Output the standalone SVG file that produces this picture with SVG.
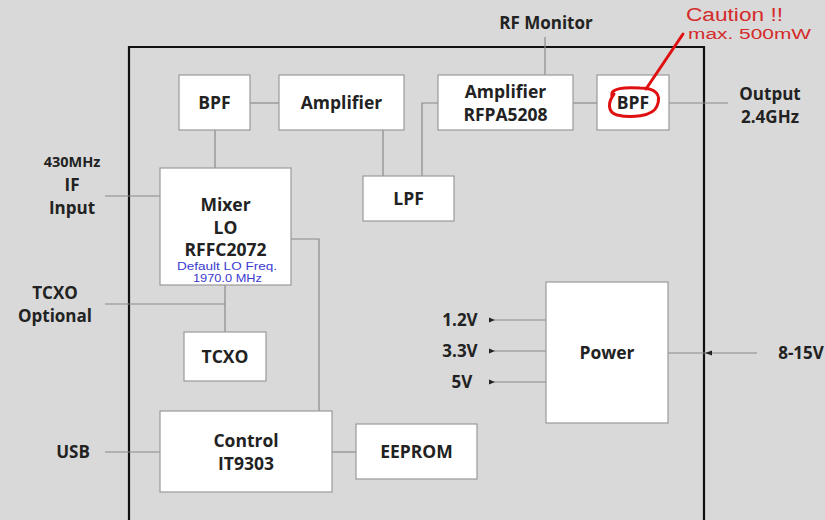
<svg xmlns="http://www.w3.org/2000/svg" width="825" height="520" viewBox="0 0 825 520">
<defs>
<marker id="ah" viewBox="0 0 6 6" refX="1" refY="3" markerWidth="6" markerHeight="6" orient="auto-start-reverse" markerUnits="userSpaceOnUse">
<path d="M6,0.5 L0,3 L6,5.5 Z" fill="#222"/>
</marker>
<style>
.box{fill:#fff;stroke:#9a9a9a;stroke-width:1.2}
.t{font-family:"Open Sans","Noto Sans","Liberation Sans",sans-serif;font-weight:bold;font-size:17.5px;fill:#222;text-anchor:middle}
.s{font-size:17px}
.w{stroke:#8a8a8a;stroke-width:1.2;fill:none}
.blue{font-family:"Liberation Sans",Arial,sans-serif;font-size:11px;fill:#3a3ad0;text-anchor:middle}
.red{font-family:"Liberation Sans",Arial,sans-serif;fill:#d42a2a}
</style>
</defs>
<rect width="825" height="520" fill="#d9d9d9"/>
<path d="M129,525 V47 H704 V525" fill="none" stroke="#111" stroke-width="2.2"/>

<g id="connectors">
<path class="w" d="M250,103 H279"/>
<path class="w" d="M215,130 V168"/>
<path class="w" d="M383,130 V176"/>
<path class="w" d="M422,176 V103 H438"/>
<path class="w" d="M573,103 H597"/>
<path class="w" d="M669,103 H728"/>
<path class="w" d="M545,37 V75"/>
<path class="w" d="M105,196 H160"/>
<path class="w" d="M291,239 H319 V411"/>
<path class="w" d="M105,304 H225"/>
<path class="w" d="M225,285 V332"/>
<path class="w" d="M105,452 H160"/>
<path class="w" d="M332,452 H356"/>
<path class="w" d="M546,320 H494" marker-end="url(#ah)"/>
<path class="w" d="M546,351 H494" marker-end="url(#ah)"/>
<path class="w" d="M546,382 H494" marker-end="url(#ah)"/>
<path class="w" d="M757,353 H668"/>
<path d="M712,350.5 L705,353 L712,355.5 Z" fill="#222"/>
</g>

<g id="bpf1"><rect class="box" x="179" y="75" width="71" height="55"/><text class="t" x="214.5" y="109">BPF</text></g>
<g id="amp1"><rect class="box" x="279" y="75" width="125" height="55"/><text class="t" x="341.5" y="109">Amplifier</text></g>
<g id="amp2"><rect class="box" x="438" y="75" width="135" height="55"/><text class="t" x="505.5" y="98">Amplifier</text><text class="t" x="505.5" y="121">RFPA5208</text></g>
<g id="bpf2"><rect class="box" x="597" y="75" width="72" height="55"/><text class="t" x="633" y="109">BPF</text></g>
<g id="mixer"><rect class="box" x="160" y="168" width="131" height="117"/>
<text class="t" x="225.5" y="211">Mixer</text><text class="t" x="225.5" y="234">LO</text><text class="t" x="225.5" y="256">RFFC2072</text>
<text class="blue" x="227" y="270" textLength="100" lengthAdjust="spacingAndGlyphs">Default  LO Freq.</text><text class="blue" x="227.5" y="282" textLength="69" lengthAdjust="spacingAndGlyphs">1970.0 MHz</text></g>
<g id="lpf"><rect class="box" x="363" y="176" width="91" height="45"/><text class="t" x="408.5" y="205">LPF</text></g>
<g id="tcxo"><rect class="box" x="184" y="332" width="82" height="49"/><text class="t" x="225" y="363">TCXO</text></g>
<g id="control"><rect class="box" x="160" y="411" width="172" height="81"/><text class="t" x="246" y="447">Control</text><text class="t" x="246" y="470">IT9303</text></g>
<g id="eeprom"><rect class="box" x="356" y="424" width="121" height="55"/><text class="t" x="416.5" y="458">EEPROM</text></g>
<g id="power"><rect class="box" x="546" y="282" width="122" height="141"/><text class="t" x="607" y="359">Power</text></g>

<g id="labels">
<text class="t s" x="546" y="29">RF Monitor</text>
<text class="t s" x="770" y="100">Output</text>
<text class="t s" x="770" y="123">2.4GHz</text>
<text class="t" x="72" y="167" style="font-size:14.5px">430MHz</text>
<text class="t s" x="72" y="191">IF</text>
<text class="t s" x="72" y="214">Input</text>
<text class="t s" x="55" y="299">TCXO</text>
<text class="t s" x="55" y="322">Optional</text>
<text class="t s" x="73" y="458">USB</text>
<text class="t s" x="460" y="326">1.2V</text>
<text class="t s" x="460" y="357">3.3V</text>
<text class="t s" x="462" y="388">5V</text>
<text class="t s" x="801" y="359">8-15V</text>
</g>

<g id="caution">
<path d="M646,89 L683,34" stroke="#e01010" stroke-width="3" fill="none" stroke-linecap="round"/>
<path d="M612,96 C610,88 625,87 640,88 C655,88 662,94 657,106 C653,117 630,118 617,115 C607,112 608,102 614,94" stroke="#e01010" stroke-width="3" fill="none" stroke-linecap="round"/>
<text class="red" x="686" y="21" style="font-size:17.5px" textLength="97" lengthAdjust="spacingAndGlyphs">Caution !!</text>
<text class="red" x="688" y="39" style="font-size:14px" textLength="123" lengthAdjust="spacingAndGlyphs">max.  500mW</text>
</g>
</svg>
